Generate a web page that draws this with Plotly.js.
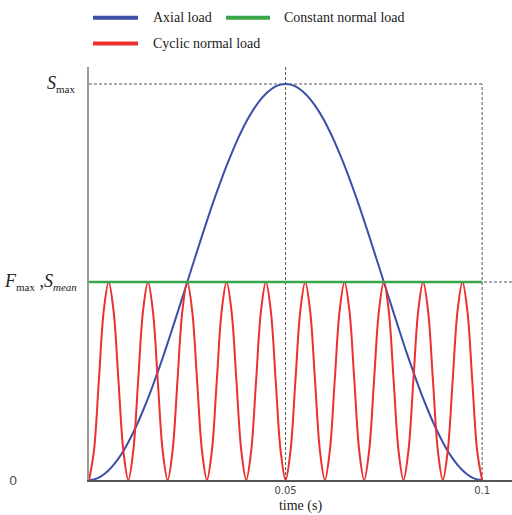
<!DOCTYPE html>
<html>
<head>
<meta charset="utf-8">
<script src="https://cdn.plot.ly/plotly-3.0.1.min.js"></script>
<style>html,body{margin:0;padding:0;background:#fff;}#chart{width:512px;height:515px;}</style>
</head>
<body>
<div id="chart"></div>
<script>
// time samples (s)
var time = [0, 0.00125, 0.0025, 0.00375, 0.005, 0.00625, 0.0075, 0.00875,
  0.01, 0.01125, 0.0125, 0.01375, 0.015, 0.01625, 0.0175, 0.01875,
  0.02, 0.02125, 0.0225, 0.02375, 0.025, 0.02625, 0.0275, 0.02875,
  0.03, 0.03125, 0.0325, 0.03375, 0.035, 0.03625, 0.0375, 0.03875,
  0.04, 0.04125, 0.0425, 0.04375, 0.045, 0.04625, 0.0475, 0.04875,
  0.05, 0.05125, 0.0525, 0.05375, 0.055, 0.05625, 0.0575, 0.05875,
  0.06, 0.06125, 0.0625, 0.06375, 0.065, 0.06625, 0.0675, 0.06875,
  0.07, 0.07125, 0.0725, 0.07375, 0.075, 0.07625, 0.0775, 0.07875,
  0.08, 0.08125, 0.0825, 0.08375, 0.085, 0.08625, 0.0875, 0.08875,
  0.09, 0.09125, 0.0925, 0.09375, 0.095, 0.09625, 0.0975, 0.09875, 0.1];

// axial load (S_max = 2)
var axialLoad = [0, 0.003, 0.012, 0.028, 0.049, 0.076, 0.109, 0.147,
  0.191, 0.240, 0.293, 0.351, 0.412, 0.478, 0.546, 0.617,
  0.691, 0.767, 0.844, 0.922, 1.0, 1.078, 1.156, 1.233,
  1.309, 1.383, 1.454, 1.522, 1.588, 1.649, 1.707, 1.760,
  1.809, 1.853, 1.891, 1.924, 1.951, 1.972, 1.988, 1.997,
  2.0, 1.997, 1.988, 1.972, 1.951, 1.924, 1.891, 1.853,
  1.809, 1.760, 1.707, 1.649, 1.588, 1.522, 1.454, 1.383,
  1.309, 1.233, 1.156, 1.078, 1.0, 0.922, 0.844, 0.767,
  0.691, 0.617, 0.546, 0.478, 0.412, 0.351, 0.293, 0.240,
  0.191, 0.147, 0.109, 0.076, 0.049, 0.028, 0.012, 0.003, 0];

// cyclic normal load (F_max = 1)
var cyclicLoad = [0, 0.146, 0.5, 0.854, 1, 0.854, 0.5, 0.146,
  0, 0.146, 0.5, 0.854, 1, 0.854, 0.5, 0.146,
  0, 0.146, 0.5, 0.854, 1, 0.854, 0.5, 0.146,
  0, 0.146, 0.5, 0.854, 1, 0.854, 0.5, 0.146,
  0, 0.146, 0.5, 0.854, 1, 0.854, 0.5, 0.146,
  0, 0.146, 0.5, 0.854, 1, 0.854, 0.5, 0.146,
  0, 0.146, 0.5, 0.854, 1, 0.854, 0.5, 0.146,
  0, 0.146, 0.5, 0.854, 1, 0.854, 0.5, 0.146,
  0, 0.146, 0.5, 0.854, 1, 0.854, 0.5, 0.146,
  0, 0.146, 0.5, 0.854, 1, 0.854, 0.5, 0.146, 0];

// constant normal load
var constTime = [0, 0.1];
var constLoad = [1, 1];

// reference levels
var levelValues = [0, 1, 2];           // 0, F_max/S_mean, S_max
var timeMarks = [0.05, 0.1];
var xTickLabels = ['0.05', '0.1'];
var seriesNames = ['Axial load', 'Constant normal load', 'Cyclic normal load'];
var seriesColors = ['#3d4fa6', '#3aa64a', '#ec2f2f'];

var SMAX = levelValues[2], FMAX = levelValues[1];
var XMAX = 0.1076, YMAX = 2.086;

var traces = [
  {x: time, y: axialLoad, type: 'scatter', mode: 'lines', name: seriesNames[0],
   line: {color: seriesColors[0], width: 2, shape: 'spline', smoothing: 1}, showlegend: false},
  {x: time, y: cyclicLoad, type: 'scatter', mode: 'lines', name: seriesNames[2],
   line: {color: seriesColors[2], width: 2, shape: 'spline', smoothing: 1}, showlegend: false},
  {x: constTime, y: constLoad, type: 'scatter', mode: 'lines', name: seriesNames[1],
   line: {color: seriesColors[1], width: 2.5}, showlegend: false}
];

var dashLine = {color: '#555', width: 1, dash: '3px,2px'};
var shapes = [
  {type: 'line', xref: 'x', yref: 'y', x0: 0, x1: timeMarks[1], y0: SMAX, y1: SMAX, line: dashLine, layer: 'below'},
  {type: 'line', xref: 'x', yref: 'y', x0: 0, x1: XMAX, y0: FMAX, y1: FMAX, line: dashLine, layer: 'below'},
  {type: 'line', xref: 'x', yref: 'y', x0: timeMarks[0], x1: timeMarks[0], y0: 0, y1: YMAX, line: dashLine, layer: 'below'},
  {type: 'line', xref: 'x', yref: 'y', x0: timeMarks[1], x1: timeMarks[1], y0: 0, y1: SMAX, line: dashLine, layer: 'below'},
  // manual legend swatches
  {type: 'line', xref: 'paper', yref: 'paper', x0: 0.0095, x1: 0.1158, y0: 1.1194, y1: 1.1194, line: {color: seriesColors[0], width: 4}},
  {type: 'line', xref: 'paper', yref: 'paper', x0: 0.3239, x1: 0.4279, y0: 1.1194, y1: 1.1194, line: {color: seriesColors[1], width: 4}},
  {type: 'line', xref: 'paper', yref: 'paper', x0: 0.0095, x1: 0.1158, y0: 1.0569, y1: 1.0569, line: {color: seriesColors[2], width: 4}}
];

var serif = 'Liberation Serif, Times New Roman, serif';
var legFont = {family: serif, size: 14, color: '#222'};
var subStyle = '<span style="font-size:11px">';
var annotations = [
  {xref: 'paper', yref: 'paper', x: 0.1466, y: 1.1194, xanchor: 'left', yanchor: 'middle', showarrow: false, text: seriesNames[0], font: legFont},
  {xref: 'paper', yref: 'paper', x: 0.4563, y: 1.1194, xanchor: 'left', yanchor: 'middle', showarrow: false, text: seriesNames[1], font: legFont},
  {xref: 'paper', yref: 'paper', x: 0.1466, y: 1.0569, xanchor: 'left', yanchor: 'middle', showarrow: false, text: seriesNames[2], font: legFont},
  {xref: 'paper', yref: 'y', x: -0.028, y: SMAX, xanchor: 'right', yanchor: 'middle', showarrow: false,
   text: '<i>S</i><sub>' + subStyle + 'max</span></sub>', font: {family: serif, size: 18, color: '#222'}},
  {xref: 'paper', yref: 'y', x: -0.023, y: FMAX, xanchor: 'right', yanchor: 'middle', showarrow: false,
   text: '<i>F</i><sub>' + subStyle + 'max</span></sub> ,<i>S</i><sub>' + subStyle + '<i>mean</i></span></sub>',
   font: {family: serif, size: 18, color: '#222'}},
  {xref: 'paper', yref: 'y', x: -0.18, y: levelValues[0], xanchor: 'center', yanchor: 'middle', showarrow: false,
   text: '0', font: {family: 'DejaVu Sans, sans-serif', size: 13, color: '#555'}}
];

var layout = {
  width: 512, height: 515,
  margin: {l: 89, r: 0, t: 67, b: 35, pad: 0},
  paper_bgcolor: '#fff', plot_bgcolor: '#fff',
  showlegend: false,
  font: {family: serif, size: 14, color: '#222'},
  xaxis: {
    range: [0, XMAX], showgrid: false, zeroline: false,
    showline: true, linecolor: '#555', linewidth: 1.5,
    tickvals: timeMarks, ticktext: xTickLabels, ticks: '',
    tickfont: {family: 'DejaVu Sans, sans-serif', size: 10, color: '#444'},
    title: {text: 'time (s)', font: {family: serif, size: 14, color: '#222'}, standoff: 5}
  },
  yaxis: {
    range: [0, YMAX], showgrid: false, zeroline: false,
    showline: true, linecolor: '#999', linewidth: 2,
    showticklabels: false, ticks: ''
  },
  shapes: shapes,
  annotations: annotations
};

Plotly.newPlot('chart', traces, layout, {displayModeBar: false});
</script>
</body>
</html>
